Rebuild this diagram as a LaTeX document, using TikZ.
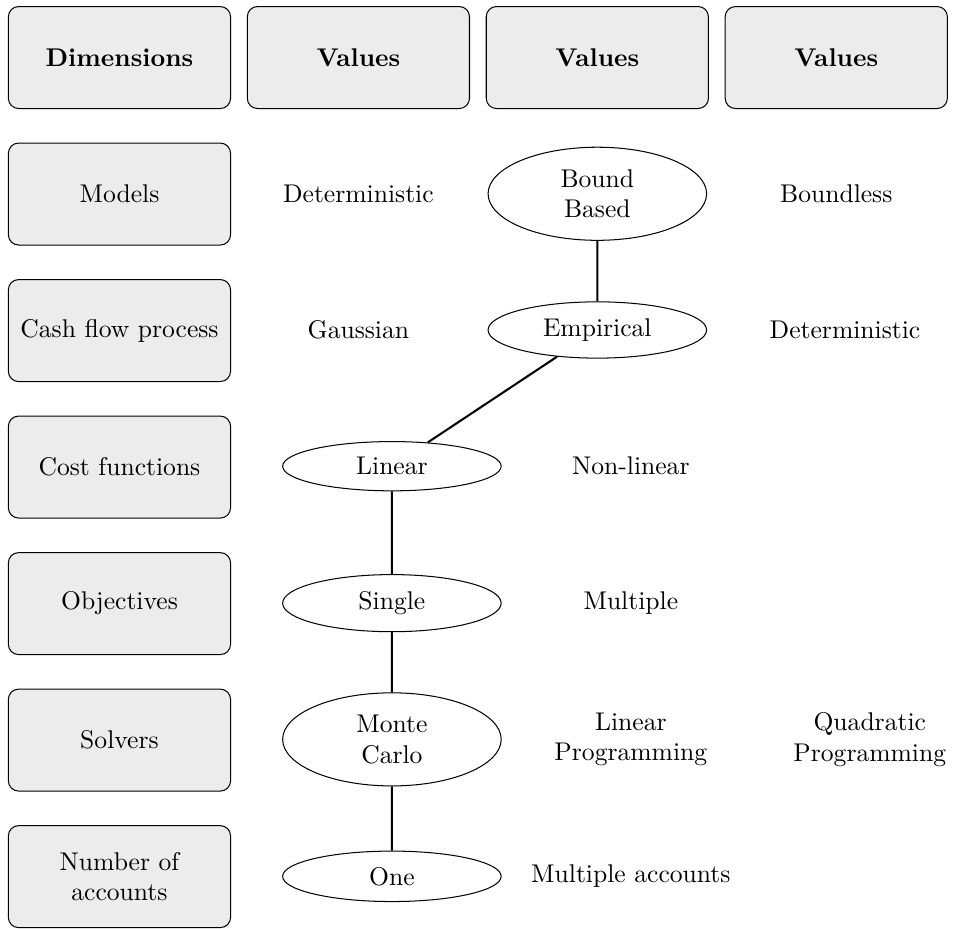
\documentclass[tikz,border=0pt]{standalone}
\usetikzlibrary{shapes.geometric}
\tikzset{
  dimbox/.style={draw, rounded corners, fill=gray!15, minimum width=3.05cm,
    minimum height=1.4cm, align=center},
  choice/.style={draw, ellipse, minimum width=3cm, align=center}
}
\begin{document}
\begin{tikzpicture}
    \useasboundingbox (0,0) rectangle (13.11,-12.74);
    \node [dimbox] (head0) at (1.64,-.79) {\textbf{Dimensions}};
    \foreach \i in {1,2,3}
      \node [dimbox] (head\i) at (1.64+3.28*\i,-.79) {\textbf{Values}};
    \foreach \txt [count=\i] in {Models,Cash flow process,Cost functions,
        Objectives,Solvers,Number of\\accounts}
      \node [dimbox] (dim\i) at (1.64,-.79-1.874*\i) {\txt};
    % values
    \node (det1) at (4.92,-2.66) {Deterministic};
    \node [choice] (bound) at (8.20,-2.66) {Bound\\Based};
    \node (boundless) at (11.48,-2.66) {Boundless};
    \node (gauss) at (4.92,-4.53) {Gaussian};
    \node [choice] (emp) at (8.20,-4.53) {Empirical};
    \node (det2) at (11.60,-4.53) {Deterministic};
    \node [choice] (lin) at (5.38,-6.40) {Linear};
    \node (nonlin) at (8.66,-6.40) {Non-linear};
    \node [choice] (single) at (5.38,-8.28) {Single};
    \node (multi) at (8.66,-8.28) {Multiple};
    \node [choice] (monte) at (5.38,-10.15) {Monte\\Carlo};
    \node [align=center] (linprog) at (8.66,-10.15) {Linear\\Programming};
    \node [align=center] (quadprog) at (11.94,-10.15) {Quadratic\\Programming};
    \node [choice] (one) at (5.38,-12.03) {One};
    \node (multacc) at (8.66,-12.03) {Multiple accounts};
    \draw [thick] (bound) -- (emp) -- (lin) -- (single) -- (monte) -- (one);
  \end{tikzpicture}
\end{document}
